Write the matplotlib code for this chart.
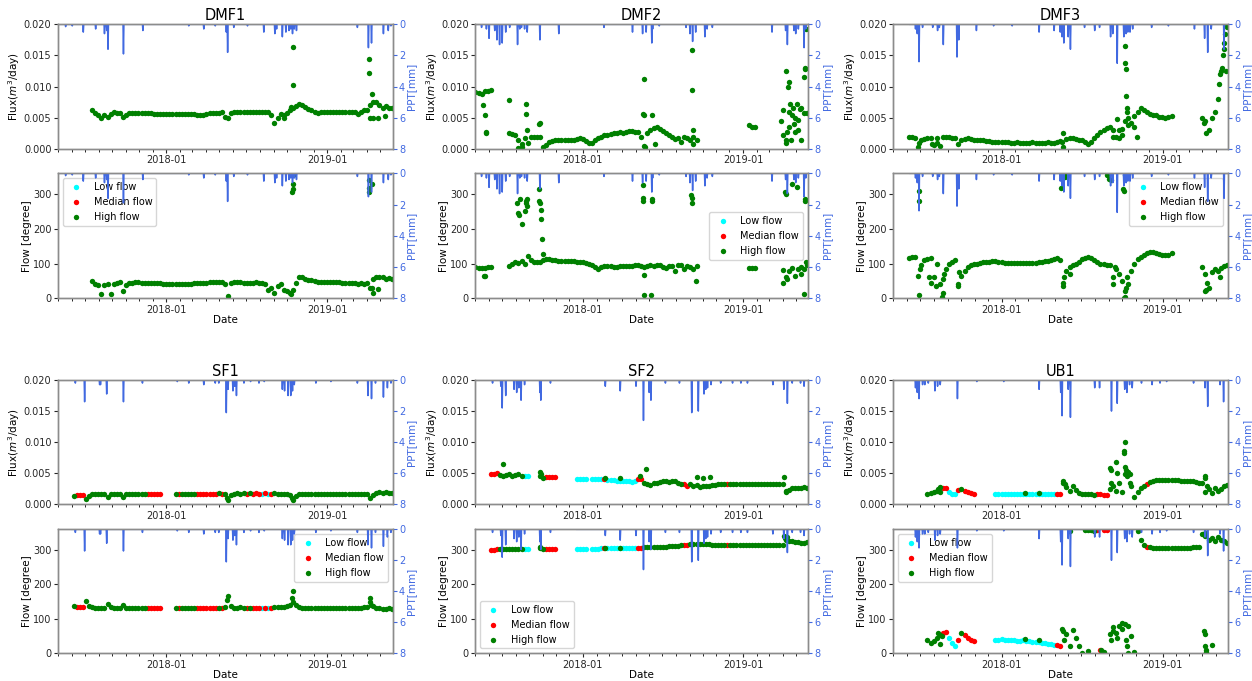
import numpy as np
import pandas as pd
import matplotlib
matplotlib.use('Agg')
import matplotlib.pyplot as plt
import matplotlib.dates as mdates
from matplotlib.ticker import FormatStrFormatter

plt.rcParams['font.family'] = ['DejaVu Sans']
plt.rcParams['font.size'] = 8

XMIN, XMAX = '2017-04-30', '2019-05-29'

# ---------------- data (weekly values) ----------------
# flux is in 1e-3 m3/day, flow direction in degree, None = no data
# class codes: L = low flow, M = median flow, H = high flow, '-' = gap

# DMF1 (weekly from 2017-07-17)
dmf1_start = '2017-07-17'
dmf1_flux = [6.3, 5.7, 5.5, 5.0, 5.4, 5.2, 5.6, 5.9, 5.8, 5.7,
             5.1, 5.5, 5.7, 5.8, 5.7, 5.7, 5.7, 5.7, 5.7, 5.7,
             5.6, 5.6, 5.6, 5.6, 5.6, 5.6, 5.6, 5.6, 5.6, 5.6,
             5.6, 5.6, 5.6, 5.6, 5.5, 5.5, 5.4, 5.6, 5.7, 5.7,
             5.8, 5.8, 5.9, 5.2, 4.9, 5.8, 6.0, 5.9, 6.0, 6.0,
             5.9, 6.0, 6.0, 6.0, 5.9, 6.0, 6.0, 5.9, 5.4, 4.1,
             5.0, 5.6, 5.5, 5.8, 6.2, 6.5, 6.9, 7.2, 7.0, 6.7,
             6.4, 6.2, 6.0, 5.8, 6.0, 6.0, 6.0, 6.0, 6.0, 6.0,
             6.0, 6.0, 6.0, 6.0, 6.0, 6.0, 5.6, 6.0, 6.2, 6.3,
             7.0, 7.6, 7.5, 7.0, 6.5, 6.9, 6.6, 6.6]
dmf1_flow = [50, 40, 38, 12, 38, 40, 12, 40, 45, 46,
             22, 38, 45, 45, 46, 46, 45, 45, 45, 44,
             44, 43, 43, 42, 42, 42, 42, 42, 42, 42,
             42, 42, 42, 43, 43, 44, 44, 45, 46, 47,
             48, 47, 46, 40, 7, 45, 46, 47, 46, 45,
             45, 44, 45, 46, 45, 44, 40, 25, 30, 15,
             35, 40, 25, 20, 15, 25, 45, 60, 60, 57,
             54, 52, 50, 48, 47, 46, 46, 46, 46, 46,
             46, 45, 45, 45, 45, 45, 40, 45, 40, 45,
             30, 55, 60, 62, 60, 55, 58, 55]
dmf1_flux_xd = ['2018-10-14', '2018-10-14', '2018-10-10', '2018-09-24', '2019-04-05',
                '2019-04-05', '2019-04-12', '2019-04-08', '2019-04-15', '2019-04-25', '2019-05-12']
dmf1_flux_xv = [16.3, 10.2, 6.8, 5.0, 14.4, 12.2, 8.9, 5.0, 4.9, 5.0, 5.3]
dmf1_flow_xd = ['2018-10-14', '2018-10-14', '2018-10-15', '2018-10-13', '2018-10-10',
                '2019-04-05', '2019-04-05', '2019-04-06', '2019-04-12', '2019-04-12',
                '2019-04-15', '2019-04-25']
dmf1_flow_xv = [355, 330, 315, 305, 12, 340, 318, 305, 328, 30, 14, 28]
dmf1_ppt_dates = ['2017-05-18', '2017-06-02', '2017-06-27', '2017-07-25', '2017-08-14',
                  '2017-08-19', '2017-08-22', '2017-09-26', '2017-11-09', '2018-02-21',
                  '2018-03-27', '2018-04-22', '2018-05-17', '2018-05-20', '2018-06-03',
                  '2018-07-04', '2018-08-10', '2018-09-04', '2018-09-08', '2018-09-21',
                  '2018-09-29', '2018-10-06', '2018-10-10', '2018-10-14', '2018-10-18',
                  '2018-10-23', '2019-03-10', '2019-04-04', '2019-04-11', '2019-05-08',
                  '2019-05-19', '2019-05-25']
dmf1_ppt_mm = [0.15, 0.1, 0.5, 0.3, 0.6, 0.4, 1.6, 1.9, 0.4, 0.1,
               0.3, 0.1, 0.5, 1.8, 0.2, 0.1, 0.5, 0.6, 0.3, 0.8,
               0.5, 0.4, 0.3, 0.6, 0.3, 0.4, 0.2, 1.5, 1.2, 0.6,
               0.4, 0.1]

# DMF2 (weekly from 2017-05-01)
dmf2_start = '2017-05-01'
dmf2_flux = [9.2, 9.0, 8.8, 9.3, 9.3, 9.4, None, None, None, None, None,
             2.6, 2.4, 2.2, 1.5, 0.8, 1.8, 1.0, 1.9, 2.0, 2.0,
             1.9, 0.4, 0.6, 1.2, 1.3, 1.4, 1.4, 1.5, 1.4, 1.5,
             1.4, 1.5, 1.6, 1.7, 1.6, 1.3, 1.0, 0.9, 1.5, 1.8,
             2.0, 2.2, 2.3, 2.4, 2.5, 2.5, 2.7, 2.6, 2.8, 2.9,
             2.9, 2.8, 2.7, 2.0, 0.5, 2.5, 3.0, 3.4, 3.6, 3.2,
             2.9, 2.5, 2.3, 2.0, 1.6, 1.8, 1.2, 2.0, 1.8, 1.5,
             2.0, 1.5, None, None, None, None, None, None, None, None,
             None, None, None, None, None, None, None, None, 3.8, 3.6,
             3.5, None, None, None, None, None, None, None, None, 2.2,
             1.5, 3.5, 5.5, 5.0, 3.0, 6.5, 5.8, 5.8]
dmf2_flow = [90, 88, 87, 88, 90, 90, None, None, None, None, None,
             92, 100, 105, 103, 107, 100, 122, 110, 105, 105,
             105, 110, 112, 112, 110, 110, 108, 108, 107, 107,
             106, 106, 105, 104, 104, 103, 100, 97, 90, 85,
             90, 92, 92, 92, 91, 91, 92, 92, 93, 93,
             94, 95, 95, 92, 90, 92, 95, 92, 96, 95,
             90, 88, 92, 93, 78, 95, 95, 85, 92, 90,
             85, 92, None, None, None, None, None, None, None, None,
             None, None, None, None, None, None, None, None, 88, 87,
             86, None, None, None, None, None, None, None, None, 82,
             60, 80, 88, 65, 85, 90, 85, 95]
dmf2_flux_xd = ['2017-05-19', '2017-05-22', '2017-05-24', '2017-05-25', '2017-07-17',
                '2017-08-24', '2017-08-24', '2017-08-26', '2017-08-05', '2017-08-15',
                '2017-09-26', '2017-09-24', '2018-05-20', '2018-05-20', '2018-05-18',
                '2018-05-22', '2018-06-07', '2018-06-15', '2018-09-06', '2018-09-06',
                '2018-09-08', '2018-09-10', '2019-03-28', '2019-04-08', '2019-04-03',
                '2019-04-14', '2019-04-15', '2019-04-09', '2019-04-12', '2019-04-16',
                '2019-04-18', '2019-04-20', '2019-04-25', '2019-04-28', '2019-04-30',
                '2019-05-03', '2019-05-06', '2019-05-10', '2019-05-14', '2019-05-22',
                '2019-05-23', '2019-05-21', '2019-05-24']
dmf2_flux_xv = [7.0, 5.5, 2.8, 2.6, 7.8, 7.2, 5.6, 3.0, 0.2, 0.3,
                4.2, 4.0, 11.2, 5.5, 5.6, 0.3, 5.4, 0.8, 15.8, 9.4,
                3.0, 0.8, 4.5, 12.5, 6.2, 10.0, 10.8, 1.0, 2.8, 6.0,
                7.2, 1.5, 6.5, 4.0, 2.8, 7.2, 4.6, 6.4, 1.5, 13.0,
                12.8, 11.5, 19.2]
dmf2_flow_xd = ['2017-05-21', '2017-05-23', '2017-08-03', '2017-08-05', '2017-08-08',
                '2017-08-10', '2017-08-15', '2017-08-22', '2017-08-24', '2017-08-25',
                '2017-08-26', '2017-08-27', '2017-09-23', '2017-09-24', '2017-09-25',
                '2017-09-27', '2017-09-28', '2017-09-30', '2017-10-01', '2018-05-17',
                '2018-05-18', '2018-05-19', '2018-05-20', '2018-05-21', '2018-06-07',
                '2018-06-08', '2018-06-06', '2018-09-05', '2018-09-06', '2018-09-07',
                '2018-09-16', '2019-04-06', '2019-04-08', '2019-04-02', '2019-04-10',
                '2019-04-22', '2019-05-05', '2019-05-12', '2019-05-22', '2019-05-23',
                '2019-05-21', '2019-05-24']
dmf2_flow_xv = [65, 63, 275, 245, 240, 285, 213, 250, 279, 274,
                285, 265, 315, 280, 275, 255, 228, 170, 128, 325,
                290, 280, 10, 68, 285, 280, 10, 298, 290, 275,
                50, 305, 300, 45, 55, 330, 320, 70, 285, 280,
                12, 105]
dmf2_ppt_dates = ['2017-05-15', '2017-05-26', '2017-06-01', '2017-06-14', '2017-06-19',
                  '2017-06-25', '2017-07-01', '2017-07-09', '2017-07-18', '2017-08-05',
                  '2017-08-10', '2017-08-14', '2017-08-21', '2017-08-27', '2017-09-25',
                  '2017-11-07', '2018-02-18', '2018-04-24', '2018-05-17', '2018-05-25',
                  '2018-06-07', '2018-06-09', '2018-06-24', '2018-08-24', '2018-09-02',
                  '2018-09-08', '2018-09-15', '2018-10-06', '2018-10-11', '2018-10-23',
                  '2019-03-08', '2019-04-08', '2019-04-12', '2019-04-27', '2019-05-01',
                  '2019-05-07', '2019-05-20', '2019-05-24']
dmf2_ppt_mm = [0.2, 0.3, 0.9, 0.4, 1.0, 1.3, 1.2, 0.5, 0.2, 1.3,
               0.3, 0.2, 0.3, 0.5, 1.0, 0.6, 0.2, 0.5, 0.6, 0.5,
               1.2, 0.3, 0.1, 0.2, 0.6, 1.1, 0.5, 0.8, 0.3, 0.2,
               0.5, 0.4, 1.3, 0.4, 0.6, 0.3, 1.5, 0.3]

# DMF3 (weekly from 2017-06-05)
dmf3_start = '2017-06-05'
dmf3_flux = [2.0, 1.9, 1.8, 0.3, 1.5, 1.6, 1.7, 1.8, 0.6, 1.7,
             0.5, 1.9, 2.0, 1.9, 1.8, 1.8, 0.8, 1.4, 1.6, 1.7,
             1.6, 1.5, 1.5, 1.4, 1.4, 1.3, 1.3, 1.2, 1.2, 1.2,
             1.1, 1.1, 1.1, 1.0, 1.0, 1.1, 1.0, 1.0, 1.0, 1.0,
             1.1, 1.0, 1.0, 1.0, 1.0, 1.1, 1.0, 1.0, 1.2, 1.3,
             0.4, 1.6, 1.7, 1.8, 1.6, 1.5, 1.4, 1.2, 0.8, 1.1,
             1.7, 2.3, 2.8, 3.0, 3.3, 3.5, 3.0, 2.0, 3.0, 3.2,
             4.5, 5.0, 4.2, 5.3, 6.0, 6.6, 6.3, 5.9, 5.6, 5.4,
             5.4, 5.2, 5.1, 5.0, 5.1, 5.3, None, None, None, None,
             None, None, None, None, None, 5.0, 4.5, 3.0, 5.0, 6.0,
             8.0, 12.5, 16.0, 19.5]
dmf3_flow = [115, 118, 120, 65, 95, 110, 112, 115, 60, 100,
             40, 15, 85, 100, 105, 110, 40, 65, 80, 90,
             95, 98, 100, 102, 104, 105, 105, 106, 106, 105,
             104, 103, 103, 103, 102, 102, 102, 102, 103, 103,
             103, 103, 104, 105, 106, 108, 110, 112, 115, 110,
             45, 80, 90, 95, 100, 105, 112, 117, 118, 115,
             110, 105, 100, 98, 97, 96, 60, 85, 70, 50,
             20, 40, 80, 100, 112, 120, 125, 130, 132, 132,
             130, 127, 125, 124, 126, 130, None, None, None, None,
             None, None, None, None, None, 90, 70, 30, 75, 85,
             80, 88, 92, 95]
dmf3_flux_xd = ['2017-06-28', '2017-07-28', '2017-08-08', '2018-05-20', '2018-05-18',
                '2018-09-20', '2018-09-10', '2018-09-25', '2018-10-01', '2018-10-07',
                '2018-10-08', '2018-10-10', '2018-10-11', '2018-10-12', '2018-10-13',
                '2018-10-14', '2018-11-03', '2018-10-28', '2019-04-05', '2019-04-10',
                '2019-05-08', '2019-05-12', '2019-05-15', '2019-05-18', '2019-05-20',
                '2019-05-22', '2019-05-25', '2019-05-26']
dmf3_flux_xv = [1.0, 0.8, 1.0, 2.6, 1.2, 4.8, 2.0, 1.8, 2.2, 16.5,
                13.8, 12.8, 8.5, 6.5, 6.0, 3.8, 1.9, 3.5, 4.2, 2.5,
                10.5, 12.0, 13.0, 15.0, 17.0, 18.5, 12.5, 19.8]
dmf3_flow_xd = ['2017-06-28', '2017-06-29', '2017-06-27', '2017-06-30', '2017-07-20',
                '2017-07-25', '2017-08-05', '2017-08-20', '2017-08-22', '2017-08-24',
                '2017-09-24', '2017-09-27', '2018-05-16', '2018-05-17', '2018-05-20',
                '2018-05-22', '2018-05-24', '2018-05-26', '2018-06-05', '2018-08-28',
                '2018-09-02', '2018-09-05', '2018-09-10', '2018-09-15', '2018-10-03',
                '2018-10-05', '2018-10-07', '2018-10-06', '2018-10-08', '2018-10-10',
                '2018-10-12', '2019-04-07', '2019-04-09', '2019-04-12', '2019-05-10']
dmf3_flow_xv = [280, 310, 10, 85, 60, 45, 35, 5, 55, 70,
                35, 75, 319, 358, 35, 60, 348, 355, 70, 355,
                345, 340, 40, 90, 315, 310, 355, 0, 5, 30,
                60, 20, 25, 45, 60]
dmf3_ppt_dates = ['2017-06-20', '2017-06-24', '2017-06-28', '2017-07-06', '2017-07-29',
                  '2017-08-09', '2017-08-13', '2017-08-22', '2017-09-22', '2017-09-26',
                  '2017-11-05', '2017-12-14', '2018-01-25', '2018-03-27', '2018-04-30',
                  '2018-05-14', '2018-05-18', '2018-05-22', '2018-06-01', '2018-06-06',
                  '2018-07-08', '2018-07-31', '2018-08-11', '2018-09-05', '2018-09-10',
                  '2018-09-20', '2018-10-05', '2018-10-10', '2018-10-14', '2018-10-19',
                  '2018-10-25', '2018-12-07', '2019-01-14', '2019-03-14', '2019-04-06',
                  '2019-04-13', '2019-04-21', '2019-05-20']
dmf3_ppt_mm = [0.3, 0.6, 2.4, 0.2, 0.2, 0.4, 0.2, 1.3, 2.1, 1.0,
               0.4, 0.1, 0.1, 0.5, 0.4, 0.5, 0.8, 1.2, 0.8, 1.6,
               0.2, 0.4, 0.2, 0.8, 0.6, 2.5, 0.8, 0.6, 0.5, 0.5,
               0.3, 0.2, 0.1, 0.3, 0.9, 1.8, 0.3, 1.6]

# SF1 (weekly from 2017-06-05)
sf1_start = '2017-06-05'
sf1_flux = [1.4, 1.5, 1.5, 1.5, 0.8, 1.4, 1.6, 1.6, 1.7, 1.7,
            1.7, 1.2, 1.6, 1.7, 1.7, 1.7, 1.1, 1.6, 1.7, 1.7,
            1.7, 1.7, 1.7, 1.7, 1.7, 1.7, 1.7, 1.7, 1.7, None,
            None, None, None, 1.7, 1.6, 1.7, 1.7, 1.7, 1.7, 1.7,
            1.7, 1.7, 1.7, 1.7, 1.7, 1.7, 1.7, 1.8, 1.7, 1.7,
            0.7, 1.5, 1.7, 1.8, 1.7, 1.8, 1.7, 1.8, 1.7, 1.8,
            1.7, 1.7, 1.8, 1.7, 1.7, 1.8, 1.7, 1.7, 1.7, 1.7,
            1.5, 0.7, 1.4, 1.7, 1.7, 1.7, 1.7, 1.7, 1.7, 1.7,
            1.7, 1.7, 1.7, 1.7, 1.7, 1.7, 1.7, 1.7, 1.7, 1.7,
            1.7, 1.7, 1.7, 1.7, 1.7, 1.7, 1.0, 1.5, 1.8, 1.9,
            1.8, 1.9, 1.8, 1.8]
sf1_flow = [138, 135, 134, 134, 153, 138, 133, 132, 132, 132,
            132, 142, 133, 132, 132, 132, 140, 132, 132, 132,
            132, 132, 132, 132, 132, 132, 132, 132, 132, None,
            None, None, None, 132, 132, 132, 132, 132, 132, 132,
            132, 132, 132, 132, 132, 132, 132, 132, 132, 135,
            165, 138, 132, 132, 133, 132, 132, 132, 131, 132,
            131, 132, 132, 132, 132, 133, 134, 135, 134, 136,
            140, 180, 140, 133, 132, 132, 132, 132, 132, 132,
            132, 132, 132, 132, 132, 132, 132, 132, 132, 132,
            132, 132, 132, 132, 133, 135, 148, 138, 132, 131,
            130, 130, 131, 130]
sf1_class = ("HMMMHHHHHH" "HHHHHHHHHH" "HHHHMMMMM-" "---HMHHHHH" "MMMMMMMHMH"
             "HHHHHHMHMM" "MLMLMHHHHH" "HHHHHHHHHH" "HHHHHHHHHH" "HHHHHHHHHH" "HHHH")
sf1_flux_xd = ['2018-05-19', '2018-10-13']
sf1_flux_xv = [1.0, 1.0]
sf1_flow_xd = ['2018-05-19', '2018-10-13', '2018-10-15', '2019-04-08', '2019-04-10']
sf1_flow_xv = [155, 160, 150, 160, 140]
sf1_ppt_dates = ['2017-06-09', '2017-06-30', '2017-08-03', '2017-08-05', '2017-08-19',
                 '2017-09-26', '2017-11-08', '2018-01-26', '2018-02-21', '2018-03-27',
                 '2018-04-22', '2018-04-30', '2018-05-17', '2018-05-21', '2018-06-01',
                 '2018-06-05', '2018-06-09', '2018-06-26', '2018-07-11', '2018-07-30',
                 '2018-08-11', '2018-09-21', '2018-09-26', '2018-10-04', '2018-10-10',
                 '2018-10-14', '2018-10-18', '2018-12-06', '2019-01-09', '2019-03-10',
                 '2019-04-03', '2019-04-11', '2019-04-20', '2019-05-08', '2019-05-17',
                 '2019-05-25']
sf1_ppt_mm = [0.2, 1.4, 0.3, 0.3, 0.9, 1.4, 0.2, 0.1, 0.2, 0.3,
              0.2, 0.2, 2.1, 0.6, 0.7, 0.4, 1.0, 0.2, 0.1, 0.2,
              0.1, 0.6, 0.7, 1.0, 1.0, 0.7, 0.3, 0.2, 0.1, 0.2,
              1.0, 1.2, 0.2, 1.1, 0.5, 0.2]

# SF2 (weekly from 2017-06-05)
sf2_start = '2017-06-05'
sf2_flux = [4.9, 4.9, 5.0, 4.7, 4.6, 4.7, 4.8, 4.6, 4.7, 4.8,
            4.6, 4.5, 4.5, None, None, None, 4.5, 4.3, 4.4, 4.4,
            4.4, 4.4, None, None, None, None, None, None, 4.1, 4.1,
            4.1, 4.0, None, 4.0, 4.0, 4.0, 4.0, 4.0, 3.9, 3.9,
            3.9, 3.8, 3.8, 3.8, 3.7, 3.7, 3.6, 3.7, 4.0, 4.0,
            3.5, 3.3, 3.1, 3.4, 3.5, 3.6, 3.7, 3.7, 3.6, 3.8,
            3.7, 3.5, 3.3, 3.3, 3.0, 3.2, 2.9, 3.1, 2.8, 3.0,
            2.9, 3.0, 3.1, 3.1, 3.2, 3.2, 3.3, 3.2, 3.3, 3.3,
            3.3, 3.3, 3.3, 3.3, 3.3, 3.3, 3.3, 3.3, 3.3, 3.3,
            3.3, 3.3, 3.3, 3.3, 3.3, 3.3, 2.2, 2.3, 2.6, 2.6,
            2.7, 2.7, 2.8, 2.6]
sf2_flow = [301, 301, 302, 303, 303, 303, 303, 303, 303, 303,
            303, 303, 303, None, None, None, 305, 303, 302, 302,
            302, 302, None, None, None, None, None, None, 304, 304,
            304, 304, None, 304, 304, 304, 305, 305, 305, 305,
            305, 306, 305, 305, 306, 306, 306, 306, 306, 307,
            308, 309, 309, 310, 309, 310, 310, 310, 311, 311,
            312, 312, 313, 314, 315, 316, 317, 318, 318, 318,
            317, 316, 315, 314, 314, 313, 313, 313, 313, 313,
            313, 313, 313, 313, 313, 313, 313, 313, 313, 313,
            313, 313, 314, 314, 314, 315, 330, 327, 325, 323,
            322, 321, 320, 322]
sf2_class = ("MMMHHHHHHH" "HLL---HHMM" "MM------LL" "LL-LLLLMLL" "LLLLLLLLMM"
             "HHHHHHHHHH" "HHHMMHHHHH" "HHHHHHHMHH" "HHHHHHHHHH" "HHHHHHHHHH" "HHHH")
sf2_flux_xd = ['2017-07-02', '2017-09-25', '2017-09-27', '2018-02-20', '2018-03-27',
               '2018-05-24', '2018-05-10', '2018-09-17', '2018-10-01', '2018-10-17',
               '2019-04-05', '2019-04-09']
sf2_flux_xv = [6.5, 5.2, 4.8, 4.3, 4.2, 5.7, 4.5, 4.4, 4.3, 4.4, 4.4, 2.0]
sf2_flow_xd = ['2017-09-25', '2018-02-20', '2018-03-27', '2019-04-05', '2019-04-06', '2019-04-10']
sf2_flow_xv = [308, 306, 306, 342, 335, 338]
sf2_ppt_dates = ['2017-06-09', '2017-06-28', '2017-07-01', '2017-07-09', '2017-07-28',
                 '2017-08-03', '2017-08-08', '2017-08-13', '2017-08-21', '2017-09-25',
                 '2017-09-27', '2017-10-19', '2018-02-21', '2018-03-27', '2018-05-02',
                 '2018-05-19', '2018-06-01', '2018-06-05', '2018-07-08', '2018-08-09',
                 '2018-09-06', '2018-09-21', '2018-10-04', '2018-10-08', '2018-10-12',
                 '2018-10-20', '2018-11-11', '2018-12-08', '2018-12-27', '2019-01-11',
                 '2019-03-10', '2019-04-04', '2019-04-12', '2019-04-23', '2019-05-12',
                 '2019-05-20']
sf2_ppt_mm = [0.2, 0.4, 1.8, 1.0, 0.6, 0.8, 0.5, 1.3, 0.3, 0.8,
              1.3, 0.2, 0.4, 0.7, 0.4, 2.6, 0.8, 1.3, 0.2, 0.2,
              2.1, 2.0, 0.9, 0.6, 0.5, 0.3, 0.2, 0.2, 0.2, 0.2,
              0.3, 0.6, 1.5, 0.2, 0.2, 0.4]
sf2_ppt_gap = ('2017-10-29', '2017-12-17')

# UB1 (weekly from 2017-07-17)
ub1_start = '2017-07-17'
ub1_flux = [1.7, 1.8, 1.9, 2.2, 2.0, 2.6, 2.7, 2.0, 1.7, 1.6,
            2.3, 2.5, 2.2, 2.0, 1.8, 1.7, None, None, None, None,
            None, None, 1.7, 1.7, 1.7, 1.7, 1.7, 1.7, 1.7, 1.7,
            1.7, 1.7, 1.7, 1.7, 1.7, 1.7, 1.7, 1.7, 1.7, 1.7,
            1.7, 1.6, 1.7, 1.6, 3.8, 2.8, 2.2, 3.0, 2.3, 1.8,
            1.7, 1.6, 1.6, 1.6, 1.5, 1.6, 1.7, 1.5, 1.5, 2.5,
            3.0, 2.2, 3.5, 2.0, 4.8, 5.2, 3.0, 1.2, 2.0, 2.6,
            3.0, 3.3, 3.6, 3.8, 3.9, 3.9, 3.9, 3.9, 3.9, 3.9,
            3.9, 3.9, 3.8, 3.8, 3.8, 3.7, 3.7, 3.6, 3.4, 3.5,
            2.0, 2.5, 1.8, 2.7, 2.2, 2.5, 2.9, 3.1]
ub1_flow = [40, 30, 35, 45, 52, 58, 62, 45, 30, 20,
            40, 60, 52, 45, 40, 37, None, None, None, None,
            None, None, 38, 40, 42, 40, 40, 38, 38, 37,
            37, 38, 36, 35, 34, 33, 32, 30, 29, 28,
            26, 25, 24, 20, 65, 55, 20, 68, 45, 20,
            2, 358, 358, 357, 356, 358, 10, 357, 357, 55,
            75, 60, 80, 70, 85, 80, 50, 5, 355, 330,
            315, 310, 308, 307, 306, 305, 305, 305, 305, 305,
            305, 305, 305, 306, 306, 307, 308, 310, 310, 345,
            340, 330, 335, 325, 338, 330, 325, 320]
ub1_class = ("HHHHHMMLLL" "MHMMMM----" "--LLLLLLLL" "LLLLLLLLLL" "LLMMHHHHHH"
             "HHHHHMMMMH" "HHHHHHHHHH" "HMHHHHHHHH" "HHHHHHHHHH" "HHHHHHHH")
ub1_flux_xd = ['2017-08-10', '2017-08-15', '2018-02-23', '2018-03-27', '2018-05-20',
               '2018-05-25', '2018-09-03', '2018-09-05', '2018-09-07', '2018-09-18',
               '2018-09-20', '2018-10-05', '2018-10-06', '2018-10-07', '2018-10-08',
               '2018-10-10', '2018-10-12', '2018-10-18', '2018-10-20', '2019-04-07',
               '2019-04-08', '2019-04-12']
ub1_flux_xv = [2.4, 2.8, 1.8, 1.8, 3.5, 3.2, 5.8, 5.5, 3.5, 6.8,
               5.0, 8.2, 8.5, 10.0, 6.0, 5.5, 4.5, 4.8, 3.5, 4.5,
               4.2, 3.0]
ub1_flow_xd = ['2017-08-10', '2017-08-14', '2017-08-20', '2018-02-23', '2018-03-27',
               '2018-05-18', '2018-05-22', '2018-06-06', '2018-07-15', '2018-08-15',
               '2018-08-20', '2018-09-05', '2018-09-10', '2018-09-20', '2018-10-01',
               '2018-10-10', '2018-10-12', '2018-10-15', '2019-04-05', '2019-04-06',
               '2019-04-08', '2019-04-09', '2019-04-10', '2019-04-22', '2019-04-07']
ub1_flow_xv = [60, 28, 50, 42, 40, 72, 40, 355, 8, 10,
               3, 40, 65, 45, 88, 40, 20, 0, 65, 55,
               20, 10, 5, 25, 350]
ub1_ppt_dates = ['2017-06-20', '2017-06-24', '2017-06-28', '2017-07-06', '2017-07-11',
                 '2017-07-19', '2017-08-03', '2017-08-09', '2017-08-15', '2017-09-23',
                 '2017-11-06', '2018-01-06', '2018-03-27', '2018-05-15', '2018-05-18',
                 '2018-06-01', '2018-06-06', '2018-07-31', '2018-08-11', '2018-09-07',
                 '2018-09-20', '2018-10-07', '2018-10-12', '2018-10-18', '2018-10-24',
                 '2018-11-14', '2018-12-08', '2018-12-26', '2019-01-10', '2019-03-12',
                 '2019-04-07', '2019-04-13', '2019-05-11', '2019-05-19']
ub1_ppt_mm = [0.5, 0.8, 1.2, 0.3, 0.3, 0.2, 0.7, 0.4, 0.3, 1.2,
              0.1, 0.1, 0.6, 0.8, 2.3, 0.6, 2.4, 0.5, 0.5, 2.0,
              1.5, 0.6, 0.8, 0.3, 0.5, 0.2, 0.3, 0.2, 0.1, 0.2,
              0.5, 1.7, 0.3, 1.4]

SITES = [
    dict(name='DMF1', start=dmf1_start, flux=dmf1_flux, flow=dmf1_flow, cls=None,
         fxd=dmf1_flux_xd, fxv=dmf1_flux_xv, dxd=dmf1_flow_xd, dxv=dmf1_flow_xv,
         ppt=(dmf1_ppt_dates, dmf1_ppt_mm, '2017-04-30', '2019-05-28', None), leg='upper left'),
    dict(name='DMF2', start=dmf2_start, flux=dmf2_flux, flow=dmf2_flow, cls=None,
         fxd=dmf2_flux_xd, fxv=dmf2_flux_xv, dxd=dmf2_flow_xd, dxv=dmf2_flow_xv,
         ppt=(dmf2_ppt_dates, dmf2_ppt_mm, '2017-04-30', '2019-05-26', None), leg='center right'),
    dict(name='DMF3', start=dmf3_start, flux=dmf3_flux, flow=dmf3_flow, cls=None,
         fxd=dmf3_flux_xd, fxv=dmf3_flux_xv, dxd=dmf3_flow_xd, dxv=dmf3_flow_xv,
         ppt=(dmf3_ppt_dates, dmf3_ppt_mm, '2017-06-07', '2019-05-27', None), leg='upper right'),
    dict(name='SF1', start=sf1_start, flux=sf1_flux, flow=sf1_flow, cls=sf1_class,
         fxd=sf1_flux_xd, fxv=sf1_flux_xv, dxd=sf1_flow_xd, dxv=sf1_flow_xv,
         ppt=(sf1_ppt_dates, sf1_ppt_mm, '2017-06-01', '2019-05-28', None), leg='upper right'),
    dict(name='SF2', start=sf2_start, flux=sf2_flux, flow=sf2_flow, cls=sf2_class,
         fxd=sf2_flux_xd, fxv=sf2_flux_xv, dxd=sf2_flow_xd, dxv=sf2_flow_xv,
         ppt=(sf2_ppt_dates, sf2_ppt_mm, '2017-06-05', '2019-05-26', sf2_ppt_gap), leg='lower left'),
    dict(name='UB1', start=ub1_start, flux=ub1_flux, flow=ub1_flow, cls=ub1_class,
         fxd=ub1_flux_xd, fxv=ub1_flux_xv, dxd=ub1_flow_xd, dxv=ub1_flow_xv,
         ppt=(ub1_ppt_dates, ub1_ppt_mm, '2017-06-07', '2019-05-27', None), leg='upper left'),
]

CLASS_STYLE = [('L', 'cyan', 'Low flow'), ('M', 'red', 'Median flow'), ('H', 'green', 'High flow')]
TICK_FS = 7
LABEL_FS = 7.5


def rain_series(dates, mm, start, end, gap):
    s = pd.Series(0.0, index=pd.date_range(start, end, freq='D'))
    for d, v in zip(dates, mm):
        s[pd.Timestamp(d)] = v
    if gap is not None:
        s[gap[0]:gap[1]] = np.nan
    return s


def draw(ax, start, vals, cls, xd, xv, scale, rain):
    t = pd.date_range(start, periods=len(vals), freq='7D').values
    v = np.array([np.nan if a is None else a for a in vals], dtype=float) * scale
    c = np.array(list(cls)) if cls else np.array(['H'] * len(vals))
    for z, (key, color, label) in enumerate(CLASS_STYLE):
        m = c == key
        tt, vv = t[m], v[m]
        if key == 'H':
            tt = np.concatenate([tt, pd.to_datetime(xd).values])
            vv = np.concatenate([vv, np.array(xv, dtype=float) * scale])
        ax.scatter(tt, vv, s=15, color=color, linewidths=0, label=label, zorder=3 + z)

    ax2 = ax.twinx()
    ax2.plot(rain.index, rain.values, color='royalblue', lw=1.1)
    ax2.set_ylim(8, 0)
    ax2.set_yticks([0, 2, 4, 6, 8])
    ax2.set_ylabel('PPT[mm]', color='royalblue', fontsize=LABEL_FS, labelpad=1)
    ax2.tick_params(axis='y', colors='royalblue', labelsize=TICK_FS, pad=1.5, length=3)

    ax.set_xlim(pd.Timestamp(XMIN), pd.Timestamp(XMAX))
    ax.xaxis.set_major_locator(mdates.YearLocator())
    ax.xaxis.set_minor_locator(mdates.MonthLocator())
    ax.xaxis.set_major_formatter(mdates.DateFormatter('%Y-%m'))
    ax.tick_params(labelsize=TICK_FS, colors='0.15', pad=1.5, length=3)
    ax.tick_params(which='minor', length=2)
    for a in (ax, ax2):
        for sp in a.spines.values():
            sp.set_color('0.55')
            sp.set_linewidth(1.0)
    return ax2


W, H = 1252, 681
fig = plt.figure(figsize=(W / 100, H / 100), dpi=100)

col_x = [(57.7, 335.0), (475.0, 333.0), (893.0, 335.0)]
row_y = [((24.3, 124.7), (173.3, 125.0)), ((380.0, 124.3), (529.3, 124.0))]

for i, site in enumerate(SITES):
    (x0, w) = col_x[i % 3]
    (fy, fh), (dy, dh) = row_y[i // 3]
    rain = rain_series(*site['ppt'])

    ax_f = fig.add_axes([x0 / W, 1 - (fy + fh) / H, w / W, fh / H])
    draw(ax_f, site['start'], site['flux'], site['cls'], site['fxd'], site['fxv'], 1e-3, rain)
    ax_f.set_ylim(0, 0.020)
    ax_f.set_yticks([0, 0.005, 0.010, 0.015, 0.020])
    ax_f.yaxis.set_major_formatter(FormatStrFormatter('%.3f'))
    ax_f.set_ylabel('Flux($m^3$/day)', fontsize=LABEL_FS, labelpad=1)
    ax_f.set_title(site['name'], fontsize=10.5, pad=3)

    ax_d = fig.add_axes([x0 / W, 1 - (dy + dh) / H, w / W, dh / H])
    draw(ax_d, site['start'], site['flow'], site['cls'], site['dxd'], site['dxv'], 1.0, rain)
    ax_d.set_ylim(0, 360)
    ax_d.set_yticks([0, 100, 200, 300])
    ax_d.set_ylabel('Flow [degree]', fontsize=LABEL_FS, labelpad=1)
    ax_d.set_xlabel('Date', fontsize=LABEL_FS, labelpad=0)
    ax_d.legend(loc=site['leg'], fontsize=7)

fig.savefig('out.png', dpi=100)
